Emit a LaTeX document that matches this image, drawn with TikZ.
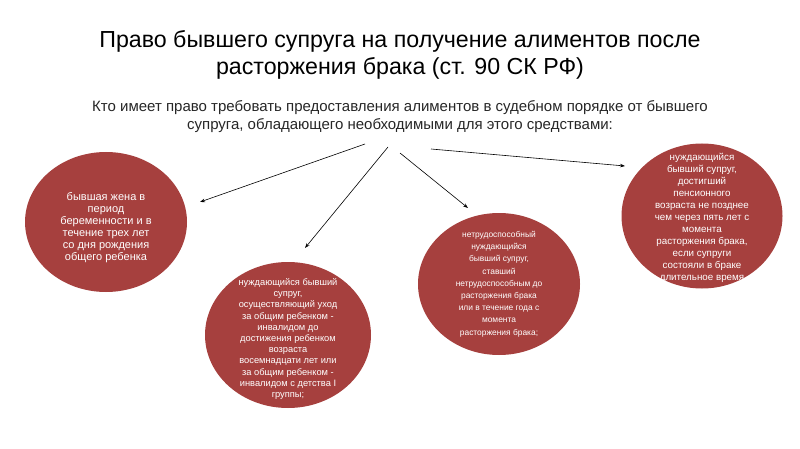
\documentclass[tikz,border=0pt]{standalone}
\usepackage{fontspec}
\setmainfont{Liberation Sans}
\usetikzlibrary{arrows.meta, positioning, shapes.geometric}
\definecolor{discred}{RGB}{166,64,62}

\begin{document}
\begin{tikzpicture}[x=1pt, y=-1pt,
    disc/.style={ellipse, fill=discred, inner sep=0pt},
    disctxt/.style={text=white, align=center,
                    font=\fontsize{9}{12}\selectfont},
    ttl/.style={anchor=base, font=\fontsize{23.2}{28}\selectfont},
    sub/.style={anchor=base, text=black!85,
                font=\fontsize{15}{18}\selectfont},
    link/.style={->, line width=0.6pt},
    >={Stealth[length=5pt, width=3.5pt]}
  ]
  \useasboundingbox (0,0) rectangle (800,449);

  % Heading
  \node[ttl] (title1) at (400,48)
    {Право бывшего супруга на получение алиментов после};
  \node[ttl] (title2) at (400,75) {расторжения брака (ст. 90 СК РФ)};
  \node[sub] (sub1) at (400,112)
    {Кто имеет право требовать предоставления алиментов в судебном порядке от бывшего};
  \node[sub] (sub2) at (400,130)
    {супруга, обладающего необходимыми для этого средствами:};

  % Circles
  \node[disc, minimum width=162pt, minimum height=140pt] (wife) at (106,222) {};
  \node[disctxt, font=\fontsize{11}{12}\selectfont] (wifetxt) at (106,228)
    {бывшая жена в\\ период\\ беременности и в\\ течение трех лет\\
     со дня рождения\\ общего ребенка};

  \node[disc, minimum width=166pt, minimum height=146pt] (care) at (288,335) {};
  \node[disctxt, font=\fontsize{9.3}{11.2}\selectfont] (caretxt) at (288,339)
    {нуждающийся бывший\\ супруг,\\ осуществляющий уход\\ за общим ребенком -\\
     инвалидом до\\ достижения ребенком\\ возраста\\ восемнадцати лет или\\
     за общим ребенком -\\ инвалидом с детства I\\ группы;};

  \node[disc, minimum width=162pt, minimum height=142pt] (unfit) at (499,284) {};
  \node[disctxt, font=\fontsize{8.4}{12.2}\selectfont] (unfittxt) at (499,284)
    {нетрудоспособный\\ нуждающийся\\ бывший супруг,\\ ставший\\
     нетрудоспособным до\\ расторжения брака\\ или в течение года с\\
     момента\\ расторжения брака;};

  \node[disc, minimum width=161pt, minimum height=145pt] (pension) at (702,216) {};
  \node[disctxt, font=\fontsize{9.8}{12}\selectfont] (pensiontxt) at (702,218)
    {нуждающийся\\ бывший супруг,\\ достигший\\ пенсионного\\
     возраста не позднее\\ чем через пять лет с\\ момента\\
     расторжения брака,\\ если супруги\\ состояли в браке\\ длительное время};

  % Arrows
  \coordinate (s1) at (365,144);  \coordinate (e1) at (200,202);
  \coordinate (s2) at (388,147);  \coordinate (e2) at (305,248);
  \coordinate (s3) at (400,153);  \coordinate (e3) at (468,208);
  \coordinate (s4) at (431,149);  \coordinate (e4) at (625,166);
  \foreach \i in {1,...,4} {
    \draw[link] (s\i) -- (e\i);
  }
\end{tikzpicture}
\end{document}
